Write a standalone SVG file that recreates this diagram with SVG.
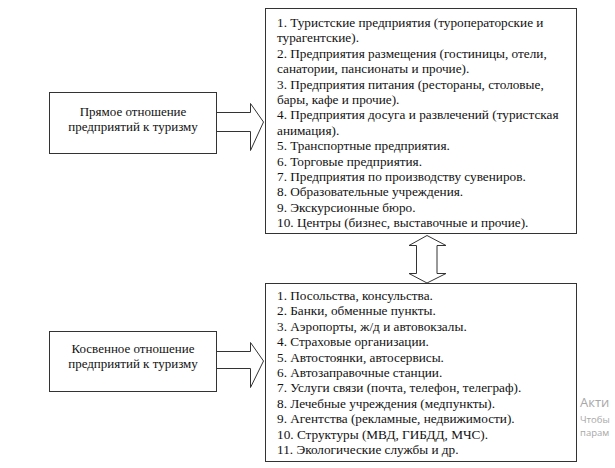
<svg xmlns="http://www.w3.org/2000/svg" width="615" height="468" viewBox="0 0 615 468">
<style>
.box{fill:#fff;stroke:#333;stroke-width:1}
.arr{fill:#fff;stroke:#333;stroke-width:1;stroke-linejoin:miter}
.t{font-family:"Liberation Serif","Times New Roman",serif;font-size:13px;fill:#111}
.l{font-size:13.25px}
.c{text-anchor:middle}
.wm{font-family:"Open Sans","Noto Sans",sans-serif;fill:#a8a8a8}
</style>
<rect width="615" height="468" fill="#fff"/>
<g id="connectors">
<path class="arr" d="M216.5,112.5 H250.5 V103.5 L263.5,122 L250.5,150.5 V131.5 H216.5"/>
<path class="arr" d="M216.5,351.5 H250.5 V342.5 L263.5,361 L250.5,387.5 V368.5 H216.5"/>
<path class="arr" d="M427,235.5 L446,245.5 H437 V273.5 H446 L427,283 L409,273.5 H416.5 V245.5 H409 Z"/>
</g>
<g id="direct">
<rect class="box" x="49.5" y="92.5" width="167" height="61"/>
<text class="t c" x="133" y="116">Прямое отношение</text>
<text class="t c" x="133" y="131">предприятий к туризму</text>
</g>
<g id="indirect">
<rect class="box" x="49.5" y="331.5" width="167" height="60"/>
<text class="t c" x="133" y="353">Косвенное отношение</text>
<text class="t c" x="133" y="368">предприятий к туризму</text>
</g>
<g id="direct-list">
<rect class="box" x="265.5" y="8.5" width="311" height="225"/>
<text class="t l" x="277" y="27">1. Туристские предприятия (туроператорские и</text>
<text class="t l" x="277" y="42.4">турагентские).</text>
<text class="t l" x="277" y="57.8">2. Предприятия размещения (гостиницы, отели,</text>
<text class="t l" x="277" y="73.2">санатории, пансионаты и прочие).</text>
<text class="t l" x="277" y="88.6">3. Предприятия питания (рестораны, столовые,</text>
<text class="t l" x="277" y="104">бары, кафе и прочие).</text>
<text class="t l" x="277" y="119.4">4. Предприятия досуга и развлечений (туристская</text>
<text class="t l" x="277" y="134.8">анимация).</text>
<text class="t l" x="277" y="150.2">5. Транспортные предприятия.</text>
<text class="t l" x="277" y="165.6">6. Торговые предприятия.</text>
<text class="t l" x="277" y="181">7. Предприятия по производству сувениров.</text>
<text class="t l" x="277" y="196.4">8. Образовательные учреждения.</text>
<text class="t l" x="277" y="211.8">9. Экскурсионные бюро.</text>
<text class="t l" x="277" y="227.2">10. Центры (бизнес, выставочные и прочие).</text>
</g>
<g id="indirect-list">
<rect class="box" x="265.5" y="283.5" width="311" height="178"/>
<text class="t l" x="277" y="300">1. Посольства, консульства.</text>
<text class="t l" x="277" y="315.4">2. Банки, обменные пункты.</text>
<text class="t l" x="277" y="330.8">3. Аэропорты, ж/д и автовокзалы.</text>
<text class="t l" x="277" y="346.2">4. Страховые организации.</text>
<text class="t l" x="277" y="361.6">5. Автостоянки, автосервисы.</text>
<text class="t l" x="277" y="377">6. Автозаправочные станции.</text>
<text class="t l" x="277" y="392.4">7. Услуги связи (почта, телефон, телеграф).</text>
<text class="t l" x="277" y="407.8">8. Лечебные учреждения (медпункты).</text>
<text class="t l" x="277" y="423.2">9. Агентства (рекламные, недвижимости).</text>
<text class="t l" x="277" y="438.6">10. Структуры (МВД, ГИБДД, МЧС).</text>
<text class="t l" x="277" y="454">11. Экологические службы и др.</text>
</g>
<g id="watermark">
<text class="wm" x="580" y="407" font-size="13">Акти</text>
<text class="wm" x="580" y="423" font-size="9.5">Чтобы</text>
<text class="wm" x="580" y="436" font-size="9.5">парам</text>
</g>
</svg>
